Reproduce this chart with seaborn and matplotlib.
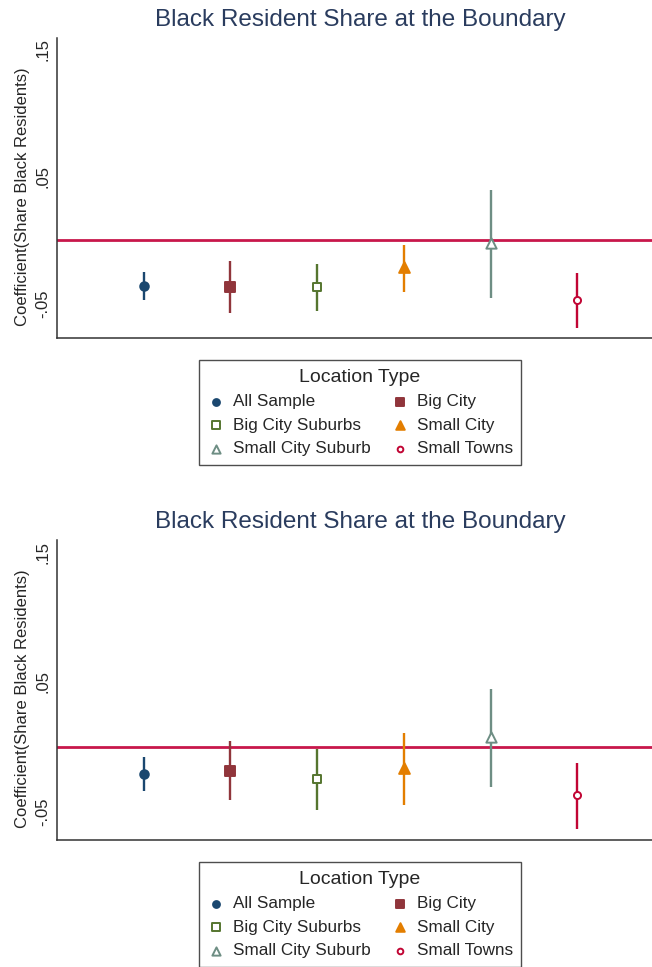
import matplotlib
matplotlib.use("Agg")
import matplotlib.pyplot as plt
import seaborn as sns
import pandas as pd

sns.set_style("white")
plt.rcParams["font.family"] = ["Liberation Sans", "DejaVu Sans"]

# data
groups = ["All Sample", "Big City", "Big City Suburbs", "Small City", "Small City Suburb", "Small Towns"]
positions = [1, 2, 3, 4, 5, 6]

coef_top = [-0.036, -0.0368, -0.0372, -0.0215, -0.0026, -0.0472]
lo_top = [-0.0472, -0.0575, -0.0557, -0.0409, -0.0459, -0.0691]
hi_top = [-0.0252, -0.0165, -0.0189, -0.0042, 0.0394, -0.0262]

coef_bot = [-0.0212, -0.0187, -0.0249, -0.0168, 0.0071, -0.0376]
lo_bot = [-0.0345, -0.0413, -0.0490, -0.0454, -0.0311, -0.0639]
hi_bot = [-0.0083, 0.0040, -0.0017, 0.0102, 0.0444, -0.0127]

yticks = [-0.05, 0.05, 0.15]
ytick_labels = ["-.05", ".05", ".15"]

colors = ["#1a476f", "#90353b", "#55752f", "#e37e00", "#6e8e84", "#c10534"]
markers = ["o", "s", "s", "^", "^", "o"]
filled = [True, True, False, True, False, False]
sizes = [38, 48, 40, 60, 55, 26]

W, H = 652, 967
fig = plt.figure(figsize=(W / 100, H / 100), dpi=100)


def panel(top_px, bottom_px, coef, lo, hi, ylim, title_y, legend_y):
    ax = fig.add_axes([57 / W, 1 - bottom_px / H, 1 - 57 / W, (bottom_px - top_px) / H])
    df = pd.DataFrame({"group": groups, "x": positions, "coef": coef, "lo": lo, "hi": hi})
    ax.axhline(0, color="#c8174b", lw=2, zorder=1)
    for i, row in df.iterrows():
        ax.vlines(row["x"], row["lo"], row["hi"], color=colors[i], lw=1.7, zorder=2)
        sns.scatterplot(x=[row["x"]], y=[row["coef"]], ax=ax, marker=markers[i], s=sizes[i],
                        color=colors[i] if filled[i] else "white", edgecolor=colors[i],
                        linewidth=1.4, zorder=3, label=row["group"])
    ax.set_xlim(0, 6.86)
    ax.set_ylim(*ylim)
    ax.set_yticks(yticks)
    ax.set_yticklabels(ytick_labels, rotation=90, va="center", fontsize=12)
    ax.set_xticks([3.5])
    ax.set_xticklabels([""])
    ax.tick_params(axis="y", length=0, pad=5)
    ax.tick_params(axis="x", length=5, color="#333333")
    for s in ["top", "right"]:
        ax.spines[s].set_visible(False)
    for s in ["left", "bottom"]:
        ax.spines[s].set_color("#333333")
        ax.spines[s].set_linewidth(1.1)
    ax.set_xlabel("")
    ax.set_ylabel("")
    fig.text(23 / W, 1 - ((top_px + bottom_px) / 2 + 9) / H, "Coefficient(Share Black Residents)",
             rotation=90, ha="center", va="center", fontsize=12)
    fig.text(360 / W, 1 - title_y / H, "Black Resident Share at the Boundary",
             ha="center", va="center", fontsize=17.5, color="#2a3c5e")
    handles, labels = ax.get_legend_handles_labels()
    if ax.get_legend() is not None:
        ax.get_legend().remove()
    order = [0, 2, 4, 1, 3, 5]
    leg = fig.legend([handles[k] for k in order], [labels[k] for k in order],
                     loc="upper center", bbox_to_anchor=(360 / W, 1 - legend_y / H),
                     ncol=2, title="Location Type", fontsize=12.3, title_fontsize=14,
                     frameon=True, fancybox=False, edgecolor="#222222", markerscale=0.8,
                     handletextpad=0.5, columnspacing=1.2, labelspacing=0.5,
                     borderpad=0.5, handlelength=1.0, borderaxespad=0)
    leg.get_frame().set_linewidth(1.0)
    return ax


panel(38, 338, coef_top, lo_top, hi_top, (-0.0772, 0.159), 20, 360)
panel(540, 840, coef_bot, lo_bot, hi_bot, (-0.0722, 0.1595), 522, 862)

fig.savefig("out.png", dpi=100)
